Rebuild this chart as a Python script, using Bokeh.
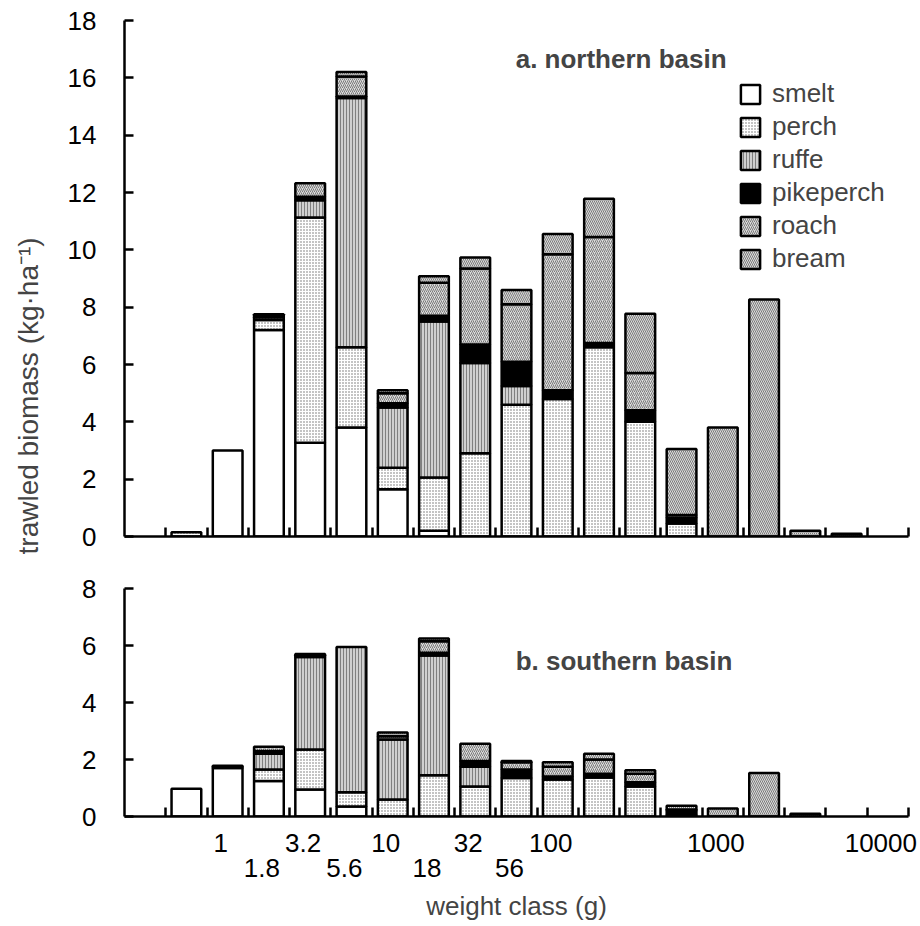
import numpy as np
from bokeh.plotting import figure
from bokeh.layouts import row, column
from bokeh.models import (Range1d, FixedTicker, ColumnDataSource, Legend,
                          LegendItem, Label, LinearAxis)
from bokeh.embed import file_html
from bokeh.resources import INLINE

# weight classes (g), one bar per class on a log-spaced axis
weight_classes = ["0.56", "1", "1.8", "3.2", "5.6", "10", "18", "32", "56",
                  "100", "180", "320", "560", "1000", "1800", "3200", "5600",
                  "10000"]
species = ["smelt", "perch", "ruffe", "pikeperch", "roach", "bream"]

# trawled biomass (kg/ha), northern basin
north_smelt = [0, 3.0, 7.2, 3.27, 3.8, 1.65, 0.2, 0, 0, 0, 0, 0, 0, 0, 0, 0, 0, 0]
north_perch = [0.15, 0, 0.35, 7.86, 2.8, 0.75, 1.86, 2.9, 4.6, 4.8, 6.6, 4.0, 0.45, 0, 0, 0, 0, 0]
north_ruffe = [0, 0, 0.1, 0.6, 8.7, 2.1, 5.44, 3.15, 0.65, 0, 0, 0, 0, 0, 0, 0, 0, 0]
north_pikeperch = [0, 0, 0.05, 0.12, 0.05, 0.15, 0.2, 0.65, 0.85, 0.3, 0.15, 0.4, 0.2, 0, 0, 0, 0, 0]
north_roach = [0, 0, 0.05, 0.47, 0.7, 0.35, 1.15, 2.65, 2.0, 4.75, 3.7, 1.3, 0.1, 0, 0, 0, 0, 0]
north_bream = [0, 0, 0, 0, 0.15, 0.1, 0.23, 0.38, 0.5, 0.7, 1.33, 2.07, 2.3, 3.8, 8.27, 0.2, 0.1, 0]

# trawled biomass (kg/ha), southern basin
south_smelt = [0.97, 1.7, 1.25, 0.95, 0.35, 0, 0, 0, 0, 0, 0, 0, 0, 0, 0, 0, 0, 0]
south_perch = [0, 0.05, 0.4, 1.4, 0.5, 0.6, 1.45, 1.05, 1.35, 1.3, 1.37, 1.05, 0.05, 0, 0, 0, 0, 0]
south_ruffe = [0, 0.03, 0.55, 3.25, 5.1, 2.1, 4.2, 0.7, 0, 0, 0, 0, 0, 0, 0, 0, 0, 0]
south_pikeperch = [0, 0, 0.1, 0.05, 0, 0, 0.1, 0.2, 0.3, 0.1, 0.13, 0.15, 0.15, 0, 0, 0, 0, 0]
south_roach = [0, 0, 0.15, 0.05, 0, 0.12, 0.4, 0.6, 0.25, 0.35, 0.5, 0.3, 0.05, 0, 0, 0, 0, 0]
south_bream = [0, 0, 0, 0, 0, 0.13, 0.1, 0, 0.05, 0.15, 0.2, 0.12, 0.13, 0.28, 1.53, 0.1, 0, 0]

# classes that carry a label under the axis
tick_labels = ["1", "1.8", "3.2", "5.6", "10", "18", "32", "56", "100", "1000", "10000"]

north = [north_smelt, north_perch, north_ruffe, north_pikeperch, north_roach, north_bream]
south = [south_smelt, south_perch, south_ruffe, south_pikeperch, south_roach, south_bream]

FONT = "Liberation Sans"
FS = "26px"

STYLES = {
    "smelt": dict(fill_color="white"),
    "perch": dict(fill_color="white", hatch_pattern="dot", hatch_color="#6a6a6a",
                  hatch_scale=3, hatch_weight=1),
    "ruffe": dict(fill_color="#d0d0d0", hatch_pattern="vertical_line",
                  hatch_color="#808080", hatch_scale=3, hatch_weight=1),
    "pikeperch": dict(fill_color="black"),
    "roach": dict(fill_color="#dcdcdc", hatch_pattern="right_diagonal_line",
                  hatch_color="#7a7a7a", hatch_scale=4, hatch_weight=1),
    "bream": dict(fill_color="#dcdcdc", hatch_pattern="left_diagonal_line",
                  hatch_color="#7a7a7a", hatch_scale=4, hatch_weight=1),
}

n_slots = len(weight_classes) + 1
positions = np.arange(len(weight_classes)) + 1.5
boundaries = list(range(1, n_slots + 1))


def style_axis(ax):
    ax.axis_line_width = 2.5
    ax.axis_line_color = "black"
    ax.major_tick_line_width = 2.5
    ax.major_tick_line_color = "black"
    ax.minor_tick_line_width = 2.5
    ax.minor_tick_line_color = "black"
    ax.major_tick_in = 9
    ax.major_tick_out = 0
    ax.minor_tick_in = 0
    ax.minor_tick_out = 0
    ax.major_label_text_font = FONT
    ax.major_label_text_font_size = FS
    ax.major_label_text_color = "black"


def panel(ymax, frame_height, border_top, border_bottom):
    p = figure(frame_width=784, frame_height=frame_height,
               x_range=Range1d(0, n_slots), y_range=Range1d(0, ymax),
               output_backend="svg", toolbar_location=None,
               min_border_left=74, min_border_right=12,
               min_border_top=border_top, min_border_bottom=border_bottom,
               outline_line_color=None)
    p.grid.visible = False
    for ax in p.axis:
        style_axis(ax)
    p.yaxis.ticker = FixedTicker(ticks=list(range(0, ymax + 1, 2)))
    p.yaxis.major_label_standoff = 28
    return p


def draw_stack(p, data):
    renderers = {}
    base = np.zeros(len(weight_classes))
    for name, vals in zip(species, data):
        vals = np.asarray(vals, dtype=float)
        keep = vals > 0
        src = ColumnDataSource(dict(x=positions[keep], bottom=base[keep],
                                    top=(base + vals)[keep]))
        renderers[name] = p.vbar(x="x", width=0.72, bottom="bottom", top="top",
                                 source=src, line_color="black", line_width=2.5,
                                 **STYLES[name])
        base = base + vals
    return renderers


# northern basin
top = panel(18, 516, 20, 24)
top.xaxis.ticker = FixedTicker(ticks=boundaries)
top.xaxis.major_label_overrides = {t: "" for t in boundaries}
top.xaxis.major_label_text_font_size = "1px"
top.xaxis.major_label_standoff = 0
rs = draw_stack(top, north)
top.add_layout(Label(x=9.48, y=16.67, text="a. northern basin", text_font=FONT,
                     text_font_size=FS, text_font_style="bold",
                     text_baseline="middle", text_align="left"))
legend = Legend(items=[LegendItem(label=s, renderers=[rs[s]]) for s in species],
                location=(614, 262), glyph_width=24, glyph_height=24,
                label_standoff=10, spacing=2, padding=0, margin=0,
                label_text_font=FONT, label_text_font_size=FS,
                border_line_color=None, background_fill_alpha=0)
top.add_layout(legend)

# southern basin
bottom = panel(8, 228, 28, 110)
draw_stack(bottom, south)
bottom.add_layout(Label(x=9.48, y=5.47, text="b. southern basin", text_font=FONT,
                        text_font_size=FS, text_font_style="bold",
                        text_baseline="middle", text_align="left"))

# class labels sit under their bars in two staggered rows
label_shift = -0.17
lab_idx = [weight_classes.index(t) for t in tick_labels]
upper = {float(positions[i] + label_shift): t for i, t in zip(lab_idx, tick_labels) if i % 2 == 1}
lower = {float(positions[i] + label_shift): t for i, t in zip(lab_idx, tick_labels) if i % 2 == 0}

main_x = bottom.xaxis[0]
main_x.ticker = FixedTicker(ticks=sorted(upper), minor_ticks=boundaries)
main_x.major_label_overrides = upper
main_x.major_tick_line_color = None
main_x.minor_tick_in = 9
main_x.minor_tick_out = 0
main_x.major_label_standoff = 17

lower_x = LinearAxis(ticker=FixedTicker(ticks=sorted(lower)),
                     major_label_overrides=lower)
style_axis(lower_x)
lower_x.axis_line_color = None
lower_x.major_tick_line_color = None
lower_x.minor_tick_line_color = None
lower_x.major_label_standoff = 4
lower_x.axis_label = "weight class (g)"
lower_x.axis_label_text_font = FONT
lower_x.axis_label_text_font_size = FS
lower_x.axis_label_text_font_style = "normal"
lower_x.axis_label_standoff = 11
bottom.add_layout(lower_x, "below")

# shared vertical axis title
ytitle = figure(width=50, height=926, x_range=Range1d(0, 1), y_range=Range1d(0, 1),
                output_backend="svg", toolbar_location=None, min_border=0,
                x_axis_type=None, y_axis_type=None, outline_line_color=None)
ytitle.grid.visible = False
ytitle.add_layout(Label(x=0.55, y=0.573, angle=np.pi / 2,
                        text="trawled biomass (kg\u00b7ha\u207b\u00b9)",
                        text_font=FONT, text_font_size="28px",
                        text_align="center", text_baseline="middle"))

layout = row(ytitle, column(top, bottom, spacing=0), spacing=0)
open("out.html", "w").write(file_html(layout, INLINE))
